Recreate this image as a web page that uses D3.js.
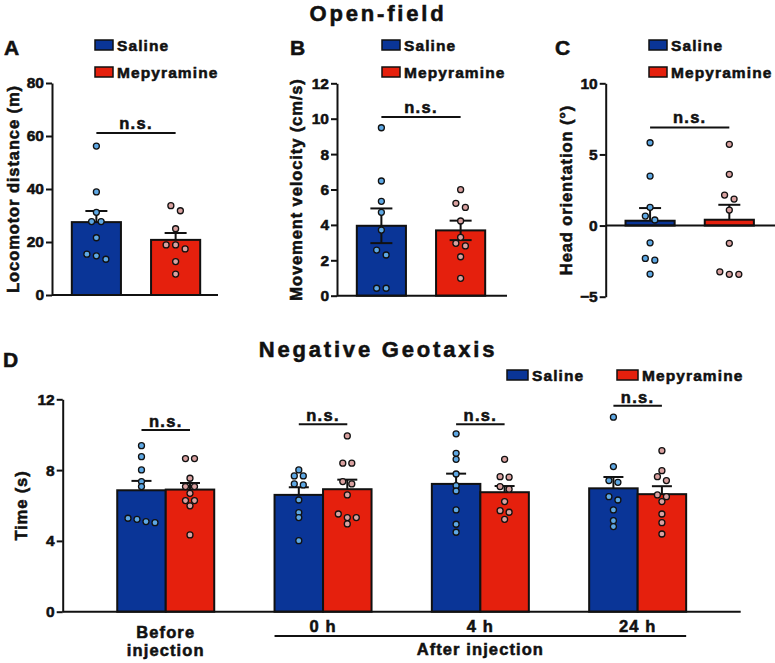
<!DOCTYPE html>
<html><head><meta charset="utf-8">
<script src="https://cdn.jsdelivr.net/npm/d3@7"></script>
<style>
body{margin:0;background:#fff;}
text{font-family:"Liberation Sans",Arial,sans-serif;font-weight:bold;fill:#111;stroke:#111;stroke-width:0.55px;}
</style></head>
<body><svg id="c" width="775" height="663"></svg>
<script>
// ---------- DATA ----------
const groups = ["Saline", "Mepyramine"];

const distanceMean = [27.5, 20.8];
const distanceSem = [4.2, 2.6];
const distanceSaline = [56.2, 38.9, 31.2, 27.7, 27.7, 21.6, 15.4, 14.8, 13.5];
const distanceMepyramine = [33.7, 31.8, 25.0, 18.9, 18.9, 17.4, 12.6, 7.9];
const distanceTicks = [0, 20, 40, 60, 80];

const velocityMean = [3.95, 3.69];
const velocitySem = [0.98, 0.55];
const velocitySaline = [9.49, 6.48, 5.33, 4.71, 3.71, 2.58, 2.30, 0.42, 0.42];
const velocityMepyramine = [5.99, 5.22, 4.99, 4.22, 3.30, 2.96, 2.81, 2.20, 0.98];
const velocityTicks = [0, 2, 4, 6, 8, 10, 12];

const headMean = [0.34, 0.41];
const headSem = [0.89, 1.05];
const headSaline = [5.82, 3.48, 1.28, 0.67, 0.39, -1.21, -2.31, -2.43, -3.41];
const headMepyramine = [5.71, 3.60, 2.14, 1.86, 1.09, -1.25, -3.25, -3.43, -3.43];
const headTicks = [-5, 0, 5, 10];

const timepoints = ["Before injection", "0 h", "4 h", "24 h"];
const geoSalineMean = [6.86, 6.60, 7.22, 6.97];
const geoSalineSem = [0.53, 0.43, 0.58, 0.64];
const geoMepyramineMean = [6.90, 6.92, 6.75, 6.64];
const geoMepyramineSem = [0.37, 0.54, 0.35, 0.45];
const geoSalinePoints = [
  [9.38, 8.76, 8.01, 7.35, 7.07, 5.28, 5.22, 5.09, 5.03],
  [8.01, 7.67, 7.67, 7.22, 7.16, 6.31, 5.60, 5.32, 4.01],
  [10.05, 8.95, 8.61, 7.78, 7.12, 6.82, 5.75, 4.94, 4.49],
  [10.99, 8.20, 7.41, 7.31, 6.50, 6.31, 5.75, 5.14, 4.81]
];
const geoMepyraminePoints = [
  [8.65, 8.65, 7.54, 7.07, 7.07, 6.69, 6.28, 6.28, 5.98, 4.34],
  [9.93, 8.39, 8.39, 7.35, 7.22, 6.60, 5.52, 5.32, 5.32, 4.96],
  [8.61, 7.63, 7.60, 7.07, 6.92, 6.22, 5.71, 5.62, 5.22],
  [9.10, 7.97, 7.63, 7.41, 6.60, 6.50, 6.22, 5.52, 5.03, 4.39]
];
const geoTicks = [0, 4, 8, 12];
// ---------- STYLE ----------
const C = {
  salBar: "#0a3597", mepBar: "#e5200d",
  salPt: "#5ea8e4", mepPt: "#d9a1a0", ink: "#111"
};
const svg = d3.select("#c");

function swarm(values, y, cx, spacing, thr) {
  const sorted = values.map(v => ({v, py: y(v)})).sort((a,b) => a.py - b.py);
  const rows = [];
  sorted.forEach(p => {
    const r = rows[rows.length-1];
    if (r && p.py - r[0].py <= thr) r.push(p); else rows.push([p]);
  });
  const out = [];
  rows.forEach(r => r.forEach((p,i) => out.push({x: cx + (i - (r.length-1)/2)*spacing, y: p.py})));
  return out;
}

function dots(g, pts, fill) {
  g.selectAll(null).data(pts).join("circle")
    .attr("cx", d => d.x).attr("cy", d => d.y).attr("r", 3)
    .attr("fill", fill).attr("stroke", C.ink).attr("stroke-width", 1.3);
}

function styleAxis(g) {
  g.select(".domain").attr("stroke", C.ink).attr("stroke-width", 2);
  g.selectAll(".tick line").attr("stroke", C.ink).attr("stroke-width", 2);
  g.selectAll(".tick text").attr("font-size", 15.5).attr("fill", C.ink)
    .style("font-family", "'Liberation Sans',Arial,sans-serif").style("font-weight", "bold");
}

function legend(x, y, w, label, color) {
  svg.append("rect").attr("x", x).attr("y", y).attr("width", w).attr("height", 10)
    .attr("fill", color).attr("stroke", C.ink).attr("stroke-width", 1.5);
  svg.append("text").attr("x", x + w + 4).attr("y", y + 10.5).attr("font-size", 15.5)
    .attr("letter-spacing", 1.1).text(label);
}

function openPanel(cfg) {
  const y = d3.scaleLinear().domain(cfg.domain).range([cfg.yBot, cfg.yTop]);
  const x = d3.scaleBand().domain(groups).range([cfg.x0, cfg.x0 + 168])
    .paddingInner(0.38).paddingOuter(0.25);
  const g = svg.append("g");
  const bw = x.bandwidth();
  const colors = [C.salBar, C.mepBar], ptCol = [C.salPt, C.mepPt];
  groups.forEach((k, i) => {
    const x0 = x(k), cx = x0 + bw/2;
    const top = Math.min(y(cfg.mean[i]), y(0)), h = Math.abs(y(cfg.mean[i]) - y(0));
    g.append("rect").attr("x", x0).attr("y", top).attr("width", bw).attr("height", h)
      .attr("fill", colors[i]).attr("stroke", C.ink).attr("stroke-width", 2);
    const hi = y(cfg.mean[i] + cfg.sem[i]), lo = cfg.both ? y(cfg.mean[i] - cfg.sem[i]) : y(cfg.mean[i]);
    g.append("line").attr("x1", cx).attr("x2", cx).attr("y1", hi).attr("y2", lo)
      .attr("stroke", C.ink).attr("stroke-width", 2);
    g.append("line").attr("x1", cx - 11).attr("x2", cx + 11).attr("y1", hi).attr("y2", hi)
      .attr("stroke", C.ink).attr("stroke-width", 2);
    if (cfg.both) g.append("line").attr("x1", cx - 11).attr("x2", cx + 11).attr("y1", lo).attr("y2", lo)
      .attr("stroke", C.ink).attr("stroke-width", 2);
    dots(g, swarm(cfg.pts[i], y, cx, 9.5, 5.5), ptCol[i]);
  });
  // x baseline
  g.append("line").attr("x1", cfg.x0).attr("x2", cfg.xEnd).attr("y1", y(0)).attr("y2", y(0))
    .attr("stroke", C.ink).attr("stroke-width", 2);
  const ax = g.append("g").attr("transform", `translate(${cfg.x0},0)`)
    .call(d3.axisLeft(y).tickValues(cfg.ticks).tickSize(6).tickSizeOuter(0).tickPadding(2));
  styleAxis(ax);
  // n.s.
  const c1 = x(groups[0]) + bw/2, c2 = x(groups[1]) + bw/2, ny = y(cfg.ns);
  g.append("line").attr("x1", c1).attr("x2", c2).attr("y1", ny).attr("y2", ny)
    .attr("stroke", C.ink).attr("stroke-width", 2);
  g.append("text").attr("x", (c1 + c2)/2).attr("y", ny - 4).attr("text-anchor", "middle")
    .attr("font-size", 16.5).attr("letter-spacing", 1.3).text("n.s.");
  // y label
  g.append("text").attr("transform", `translate(${cfg.labelX},${(cfg.yTop + cfg.yBot)/2}) rotate(-90)`)
    .attr("text-anchor", "middle").attr("font-size", 16.5).attr("letter-spacing", 0.9).text(cfg.label);
  // letter
  svg.append("text").attr("x", cfg.letterX).attr("y", 55).attr("font-size", 21).text(cfg.letter);
  legend(cfg.legX, 40, 18, groups[0], C.salBar);
  legend(cfg.legX, 67, 18, groups[1], C.mepBar);
}

// Titles
svg.append("text").attr("x", 378).attr("y", 21).attr("text-anchor", "middle")
  .attr("font-size", 22).attr("letter-spacing", 2.8).text("Open-field");
svg.append("text").attr("x", 378).attr("y", 357).attr("text-anchor", "middle")
  .attr("font-size", 22).attr("letter-spacing", 2.8).text("Negative Geotaxis");

openPanel({x0: 52, xEnd: 218, yTop: 83, yBot: 295, domain: [0, 80], ticks: distanceTicks,
  mean: distanceMean, sem: distanceSem, pts: [distanceSaline, distanceMepyramine], both: false,
  ns: 61.1, label: "Locomotor distance (m)", labelX: 18.5, letter: "A", letterX: 4, legX: 95});
openPanel({x0: 337, xEnd: 507, yTop: 83.3, yBot: 295.7, domain: [0, 12], ticks: velocityTicks,
  mean: velocityMean, sem: velocitySem, pts: [velocitySaline, velocityMepyramine], both: true,
  ns: 10.1, label: "Movement  velocity (cm/s)", labelX: 301.5, letter: "B", letterX: 290, legX: 382});
openPanel({x0: 605.7, xEnd: 775, yTop: 83.3, yBot: 296.7, domain: [-5, 10], ticks: headTicks,
  mean: headMean, sem: headSem, pts: [headSaline, headMepyramine], both: false,
  ns: 6.9, label: "Head orientation (°)", labelX: 571.5, letter: "C", letterX: 555, legX: 649});

// ---------- Panel D ----------
(function(){
  const yTop = 399.3, yBot = 611.7, x0 = 62.7, x1 = 740.7;
  const y = d3.scaleLinear().domain([0, 12]).range([yBot, yTop]);
  const xg = d3.scalePoint().domain(timepoints).range([x0, x1]).padding(0.655);
  const xs = d3.scaleBand().domain(groups).range([-48.5, 48.5]);
  const bw = xs.bandwidth();
  const g = svg.append("g");
  const means = [geoSalineMean, geoMepyramineMean], sems = [geoSalineSem, geoMepyramineSem];
  const pts = [geoSalinePoints, geoMepyraminePoints];
  const colors = [C.salBar, C.mepBar], ptCol = [C.salPt, C.mepPt];
  const nsVals = [10.27, 10.59, 10.59, 11.63];
  timepoints.forEach((t, j) => {
    const gc = xg(t);
    groups.forEach((k, i) => {
      const bx = gc + xs(k);
      g.append("rect").attr("x", bx).attr("y", y(means[i][j])).attr("width", bw)
        .attr("height", y(0) - y(means[i][j]))
        .attr("fill", colors[i]).attr("stroke", C.ink).attr("stroke-width", 2);
    });
    groups.forEach((k, i) => {
      const cx = gc + xs(k) + bw/2;
      const hi = y(means[i][j] + sems[i][j]);
      g.append("line").attr("x1", cx).attr("x2", cx).attr("y1", hi).attr("y2", y(means[i][j]))
        .attr("stroke", C.ink).attr("stroke-width", 2);
      g.append("line").attr("x1", cx - 10).attr("x2", cx + 10).attr("y1", hi).attr("y2", hi)
        .attr("stroke", C.ink).attr("stroke-width", 2);
      dots(g, swarm(pts[i][j], y, cx, 9, 4.5), ptCol[i]);
    });
    const c1 = gc + xs(groups[0]) + bw/2, c2 = gc + xs(groups[1]) + bw/2, ny = y(nsVals[j]);
    g.append("line").attr("x1", c1).attr("x2", c2).attr("y1", ny).attr("y2", ny)
      .attr("stroke", C.ink).attr("stroke-width", 2);
    g.append("text").attr("x", (c1 + c2)/2).attr("y", ny - 3).attr("text-anchor", "middle")
      .attr("font-size", 16.5).attr("letter-spacing", 1.3).text("n.s.");
    // x labels
    if (j === 0) {
      const tx = g.append("text").attr("text-anchor", "middle").attr("font-size", 16.5).attr("letter-spacing", 1.1);
      tx.append("tspan").attr("x", gc).attr("y", 638).text("Before");
      tx.append("tspan").attr("x", gc).attr("y", 656).text("injection");
    } else {
      g.append("text").attr("x", gc).attr("y", 632).attr("text-anchor", "middle")
        .attr("font-size", 16.5).attr("letter-spacing", 1.1).text(t);
    }
  });
  g.append("line").attr("x1", x0).attr("x2", x1).attr("y1", y(0)).attr("y2", y(0))
    .attr("stroke", C.ink).attr("stroke-width", 2);
  const ax = g.append("g").attr("transform", `translate(${x0},0)`)
    .call(d3.axisLeft(y).tickValues(geoTicks).tickSize(6).tickSizeOuter(0).tickPadding(2));
  styleAxis(ax);
  // After injection bracket
  const a0 = xg(timepoints[1]) - 48.5, a1 = xg(timepoints[3]) + 48.5;
  g.append("line").attr("x1", a0).attr("x2", a1).attr("y1", 636).attr("y2", 636)
    .attr("stroke", C.ink).attr("stroke-width", 2);
  g.append("text").attr("x", xg(timepoints[2])).attr("y", 655).attr("text-anchor", "middle")
    .attr("font-size", 16.5).attr("letter-spacing", 1.1).text("After injection");
  g.append("text").attr("transform", `translate(27,${(yTop + yBot)/2}) rotate(-90)`)
    .attr("text-anchor", "middle").attr("font-size", 16.5).attr("letter-spacing", 0.9).text("Time (s)");
  svg.append("text").attr("x", 3).attr("y", 367).attr("font-size", 21).text("D");
  legend(507, 370, 21, groups[0], C.salBar);
  legend(617, 370, 21, groups[1], C.mepBar);
})();
</script></body></html>
